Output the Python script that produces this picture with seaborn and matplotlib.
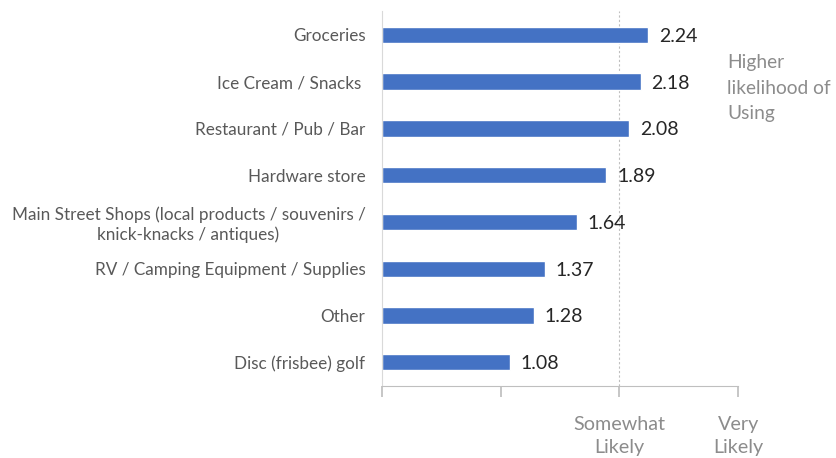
import matplotlib
matplotlib.use("Agg")
import matplotlib.pyplot as plt
import seaborn as sns
import pandas as pd

categories = [
    "Groceries",
    "Ice Cream / Snacks ",
    "Restaurant / Pub / Bar",
    "Hardware store",
    "Main Street Shops (local products / souvenirs /\nknick-knacks / antiques)",
    "RV / Camping Equipment / Supplies",
    "Other",
    "Disc (frisbee) golf",
]
values = [2.24, 2.18, 2.08, 1.89, 1.64, 1.37, 1.28, 1.08]
tick_positions = [0, 1, 2, 3]
tick_labels = ["", "", "Somewhat\nLikely", "Very\nLikely"]

sns.set_theme(style="white")
plt.rcParams["font.family"] = ["Lato", "DejaVu Sans"]

df = pd.DataFrame({"cat": categories, "val": values})

fig = plt.figure(figsize=(8.36, 4.58), dpi=100)
ax = fig.add_axes([0.457, 0.158, 0.426, 0.817])
sns.barplot(data=df, x="val", y="cat", color="#4472C4", width=0.35,
            saturation=1, ax=ax, orient="h")

ax.set_xlim(0, 3)
ax.set_ylim(7.5, -0.5)
ax.set_xlabel("")
ax.set_ylabel("")
ax.axvline(2, color="#BFBFBF", linestyle=(0, (2, 2)), linewidth=0.8, zorder=0)

for i, v in enumerate(values):
    ax.text(v + 0.09, i + 0.03, f"{v:.2f}", va="center", ha="left", fontsize=14,
            color="#262626")

ax.set_yticks(range(len(categories)))
ax.set_yticklabels(categories, fontsize=12.3, color="#595959", ha="right",
                   multialignment="center", linespacing=1.2)
ax.tick_params(axis="y", length=0, pad=12)

ax.set_xticks(tick_positions)
ax.set_xticklabels(tick_labels, fontsize=14.2, color="#8C8C8C", linespacing=1.42)
ax.tick_params(axis="x", length=8, color="#BFBFBF", direction="out",
               bottom=True, pad=14)

for s in ["top", "right"]:
    ax.spines[s].set_visible(False)
ax.spines["left"].set_color("#D9D9D9")
ax.spines["bottom"].set_color("#BFBFBF")
ax.spines["left"].set_linewidth(0.8)
ax.spines["bottom"].set_linewidth(0.8)

fig.text(727 / 836, 1 - 88 / 458, "Higher\nlikelihood of\nUsing", fontsize=13.8,
         color="#8C8C8C", ha="left", va="center", linespacing=1.6)

fig.savefig("out.png", dpi=100)
